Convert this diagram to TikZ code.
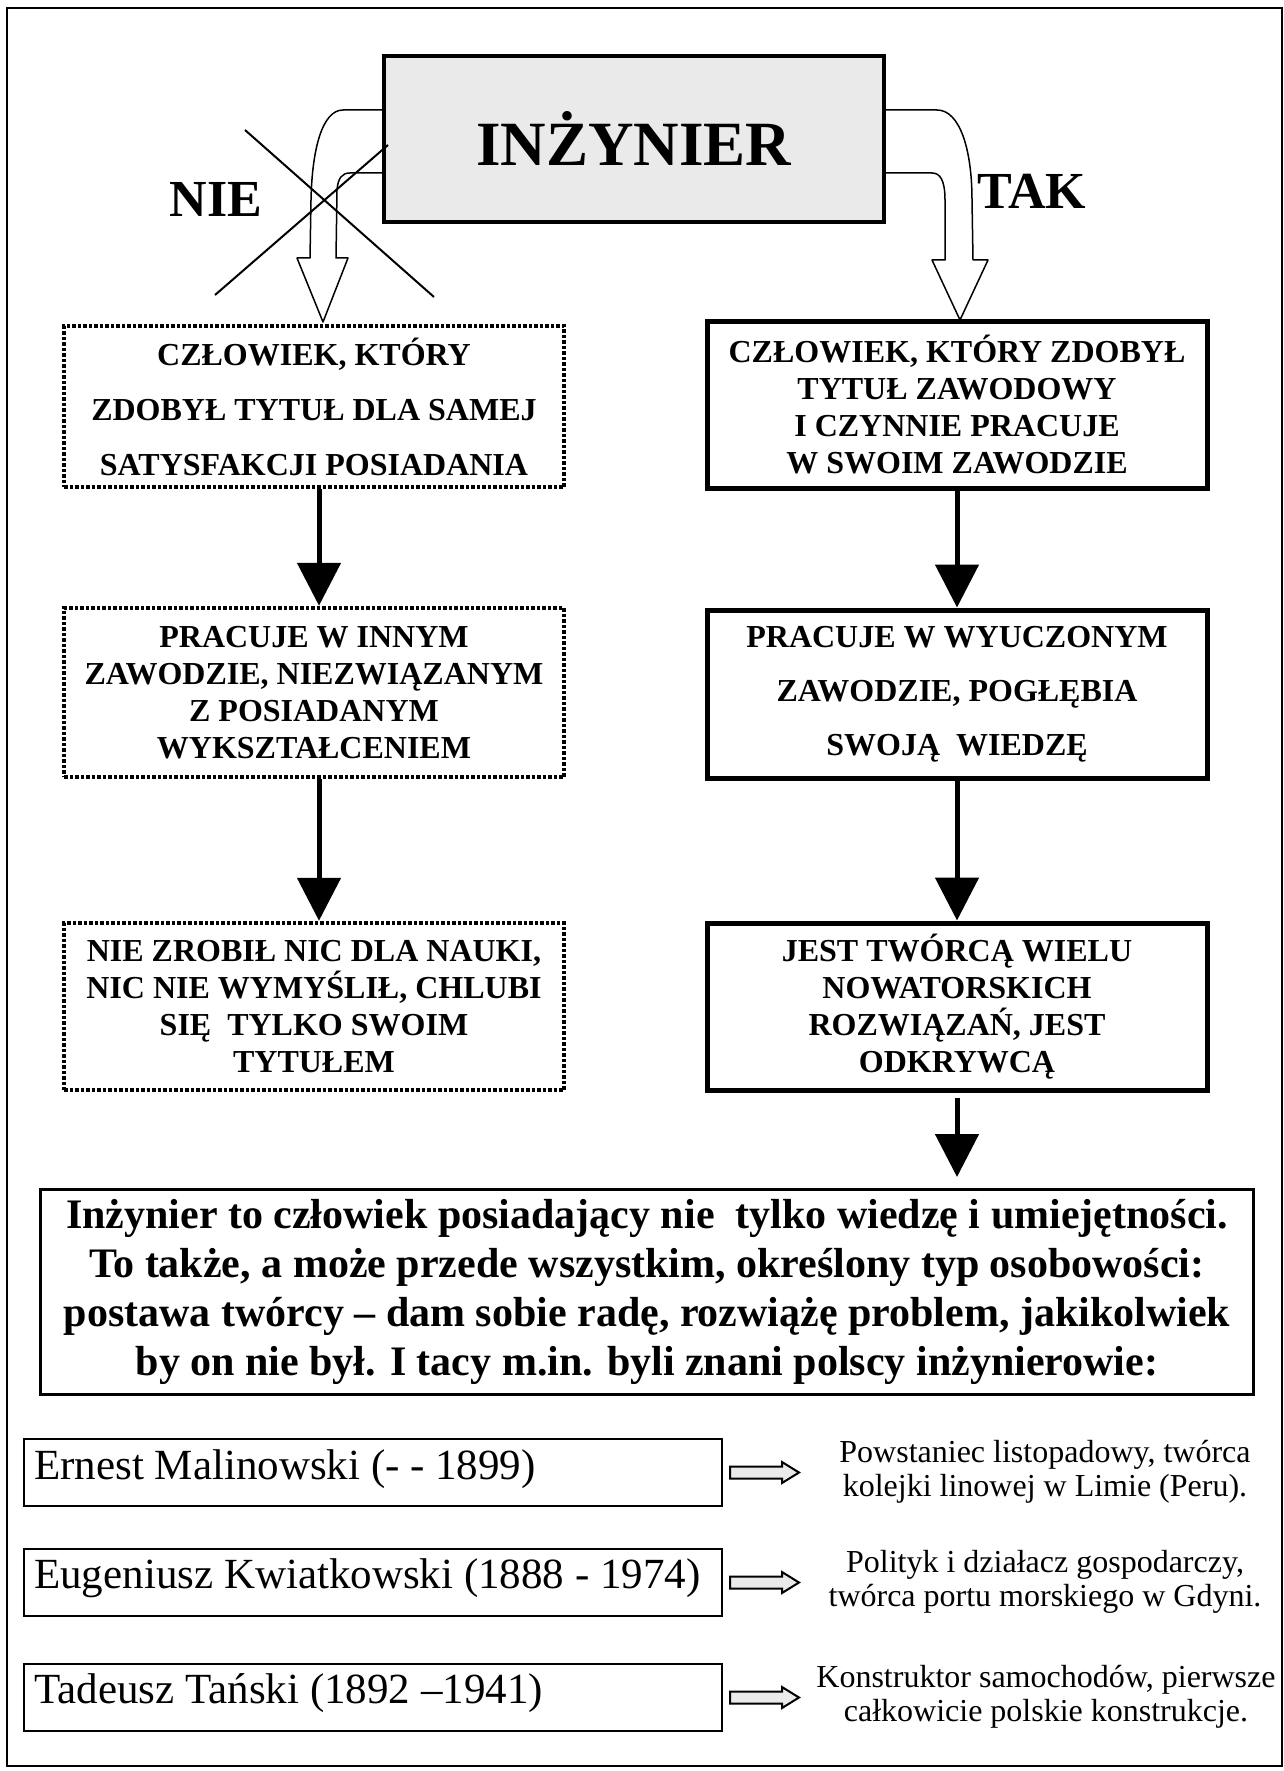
\documentclass[tikz,border=0pt]{standalone}
\usepackage{fontspec}
\setmainfont{Liberation Serif}
\usetikzlibrary{arrows.meta,calc}
\definecolor{boxgray}{HTML}{EAEAEA}
\tikzset{
  fr/.style={draw, line width=1.5pt},
  titlebox/.style={draw, line width=4pt, fill=boxgray, minimum width=500pt, minimum height=166pt, inner sep=0pt, font=\fontsize{63}{70}\selectfont\bfseries},
  nobox/.style={draw, line width=4.5pt, dash pattern=on 3.5pt off 2pt, minimum width=500pt, inner sep=0pt, align=center},
  yesbox/.style={draw, line width=5pt, minimum width=500pt, inner sep=0pt, align=center},
  capfont/.style={font=\fontsize{32}{#1}\selectfont\bfseries},
  arr/.style={line width=5pt, -{Triangle[length=43pt,width=43pt]}},
  hollow/.style={draw, line width=1.5pt, fill=white, line join=round},
  crossline/.style={line width=2pt},
  yn/.style={font=\fontsize{52}{60}\selectfont\bfseries, inner sep=0pt},
  bigbox/.style={draw, line width=3pt, minimum width=1213pt, minimum height=205pt, align=center, inner sep=0pt, font=\fontsize{42}{49}\selectfont\bfseries},
  namebox/.style={draw, line width=2pt, minimum width=698pt, minimum height=67pt, inner sep=0pt},
  nametext/.style={font=\fontsize{43}{50}\selectfont, anchor=base west, inner sep=0pt},
  desc/.style={font=\fontsize{32}{34}\selectfont, align=center, inner sep=0pt},
  smallarr/.pic={\draw[line width=2pt, fill=boxgray, line join=miter] (0,-6) -- (52,-6) -- (52,-10.5) -- (69,0) -- (52,10.5) -- (52,6) -- (0,6) -- cycle;}
}
\begin{document}
\begin{tikzpicture}[x=1pt, y=-1pt]
\useasboundingbox (0,0) rectangle (1284,1771);
\draw[fr] (7,8) rectangle (1282,1766);

% hollow curved arrows (behind the title box)
\draw[hollow] (384,110) -- (343,110) .. controls (322,110) and (312,150) .. (311,200) -- (310,258) -- (297,258) -- (323,322) -- (348,258) -- (336,258) -- (337,190) .. controls (338,178) and (342,173) .. (350,173) -- (384,173);
\draw[hollow] (884,110) -- (937,110) .. controls (960,110) and (972,150) .. (972,200) -- (973,260) -- (988,260) -- (960,320) -- (932,260) -- (945,260) -- (945,200) .. controls (945,180) and (940,173) .. (932,173) -- (884,173);

\node[titlebox] (inz) at (634,139) {INŻYNIER};

\draw[crossline] (245,130) -- (434,297);
\draw[crossline] (388,145) -- (215,295);

\node[yn] (nie) at (216,199.5) {NIE};
\node[yn] (tak) at (1032,191.5) {TAK};

\node[nobox, capfont=55, minimum height=161pt] (l1) at (314,406.5) {CZŁOWIEK, KTÓRY\\ZDOBYŁ TYTUŁ DLA SAMEJ\\SATYSFAKCJI POSIADANIA};
\node[yesbox, capfont=37, minimum height=167pt] (r1) at (957,405) {CZŁOWIEK, KTÓRY ZDOBYŁ\\TYTUŁ ZAWODOWY\\I CZYNNIE PRACUJE\\W SWOIM ZAWODZIE};
\node[nobox, capfont=37, minimum height=169pt] (l2) at (314,692.5) {PRACUJE W INNYM\\ZAWODZIE, NIEZWIĄZANYM\\Z POSIADANYM\\WYKSZTAŁCENIEM};
\node[yesbox, capfont=54, minimum height=168pt] (r2) at (957,694) {PRACUJE W WYUCZONYM\\ZAWODZIE, POGŁĘBIA\\SWOJĄ\ \ WIEDZĘ};
\node[nobox, capfont=37, minimum height=167pt] (l3) at (314,1006.5) {NIE ZROBIŁ NIC DLA NAUKI,\\NIC NIE WYMYŚLIŁ, CHLUBI\\SIĘ\ \ TYLKO SWOIM\\TYTUŁEM};
\node[yesbox, capfont=37, minimum height=167pt] (r3) at (957,1006.5) {JEST TWÓRCĄ WIELU\\NOWATORSKICH\\ROZWIĄZAŃ, JEST\\ODKRYWCĄ};

\draw[arr] ([xshift=5pt]l1.south) -- ([xshift=5pt]l2.north);
\draw[arr] (r1.south) -- (r2.north);
\draw[arr] ([xshift=5pt]l2.south) -- ([xshift=5pt]l3.north);
\draw[arr] (r2.south) -- (r3.north);

\node[bigbox] (big) at (647,1291.5) {Inżynier to człowiek posiadający nie\ \ tylko wiedzę i umiejętności.\\To także, a może przede wszystkim, określony typ osobowości:\\postawa twórcy – dam sobie radę, rozwiążę problem, jakikolwiek\\by on nie był. I tacy m.in. byli znani polscy inżynierowie:};

\coordinate (t3) at (957,1177);
\draw[arr] ([yshift=-5pt]r3.south) -- (t3);

\node[namebox] (n1) at (373,1472.5) {};
\node[namebox] (n2) at (373,1582.5) {};
\node[namebox] (n3) at (373,1697.5) {};
\node[nametext] (n1t) at ([xshift=11pt,yshift=-7pt]n1.west) {Ernest Malinowski (- - 1899)};
\node[nametext] (n2t) at ([xshift=11pt,yshift=-6pt]n2.west) {Eugeniusz Kwiatkowski (1888 - 1974)};
\node[nametext] (n3t) at ([xshift=11pt,yshift=-6pt]n3.west) {Tadeusz Tański (1892 –1941)};

\pic at ([xshift=7pt]n1.east) {smallarr};
\pic at ([xshift=7pt]n2.east) {smallarr};
\pic at ([xshift=7pt]n3.east) {smallarr};

\node[desc] (d1) at (1045,1472) {Powstaniec listopadowy, twórca\\kolejki linowej w Limie (Peru).};
\node[desc] (d2) at (1045,1582) {Polityk i działacz gospodarczy,\\twórca portu morskiego w Gdyni.};
\node[desc] (d3) at (1046,1697) {Konstruktor samochodów, pierwsze\\całkowicie polskie konstrukcje.};
\end{tikzpicture}
\end{document}
